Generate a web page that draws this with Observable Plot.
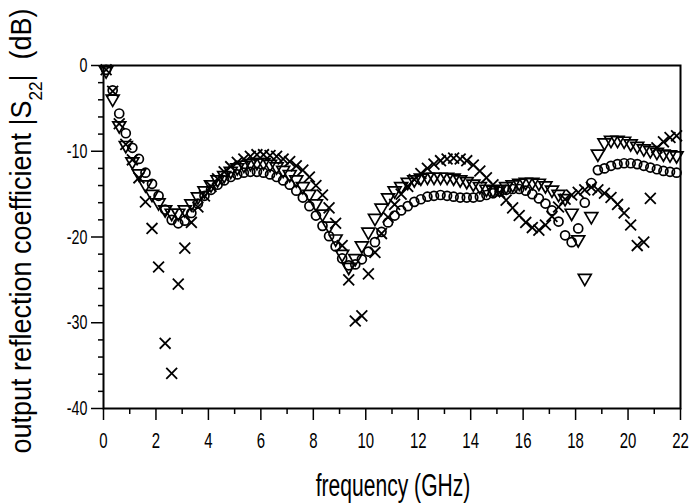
<!DOCTYPE html>
<html><head><meta charset="utf-8">
<script src="https://cdn.jsdelivr.net/npm/d3@7"></script>
<script src="https://cdn.jsdelivr.net/npm/@observablehq/plot@0.6"></script>
<style>
html,body{margin:0;padding:0;background:#fff;}
#chart{width:693px;height:504px;}
</style></head>
<body><div id="chart"></div>
<script>
const freq = [0.1,0.35,0.6,0.85,1.1,1.35,1.6,1.85,2.1,2.35,
2.6,2.85,3.1,3.35,3.6,3.85,4.1,4.35,4.6,4.85,
5.1,5.35,5.6,5.85,6.1,6.35,6.6,6.85,7.1,7.35,
7.6,7.85,8.1,8.35,8.6,8.85,9.1,9.35,9.6,9.85,
10.1,10.35,10.6,10.85,11.1,11.35,11.6,11.85,12.1,12.35,
12.6,12.85,13.1,13.35,13.6,13.85,14.1,14.35,14.6,14.85,
15.1,15.35,15.6,15.85,16.1,16.35,16.6,16.85,17.1,17.35,
17.6,17.85,18.1,18.35,18.6,18.85,19.1,19.35,19.6,19.85,
20.1,20.35,20.6,20.85,21.1,21.35,21.6,21.85];

const crosses = [-0.5,-3.0,-6.8,-9.2,-11.0,-13.1,-15.9,-19.0,-23.5,-32.4,
-35.9,-25.5,-21.3,-18.3,-16.5,-15.2,-14.1,-13.2,-12.4,-11.8,
-11.3,-10.9,-10.6,-10.4,-10.4,-10.5,-10.6,-10.9,-11.2,-11.7,
-12.2,-13.0,-14.0,-15.1,-16.6,-18.4,-21.0,-25.0,-29.8,-29.2,
-24.3,-21.8,-19.6,-17.7,-16.2,-15.0,-14.1,-13.3,-12.6,-12.0,
-11.5,-11.1,-10.9,-10.8,-10.9,-11.1,-11.6,-12.3,-13.1,-13.9,
-14.8,-15.7,-16.6,-17.5,-18.3,-18.9,-19.2,-18.6,-17.6,-16.5,
-15.6,-15.1,-14.8,-14.5,-14.2,-14.5,-14.9,-15.4,-16.2,-17.2,
-18.6,-21.0,-20.6,-15.5,-9.6,-8.9,-8.4,-8.2];

const triangles = [-0.6,-3.9,-7.0,-9.3,-11.2,-12.6,-13.9,-15.0,-16.0,-16.8,
-17.2,-17.2,-16.8,-16.1,-15.3,-14.6,-13.9,-13.3,-12.8,-12.3,
-11.9,-11.6,-11.4,-11.3,-11.3,-11.5,-11.8,-12.2,-12.7,-13.3,
-14.1,-15.0,-16.1,-17.3,-18.7,-20.2,-22.0,-23.5,-22.5,-21.0,
-19.4,-17.8,-16.6,-15.4,-14.6,-14.1,-13.6,-13.3,-13.1,-13.0,
-13.0,-13.0,-13.0,-13.1,-13.3,-13.5,-13.8,-14.1,-14.4,-14.5,
-14.4,-14.1,-13.9,-13.7,-13.6,-13.6,-13.7,-14.0,-14.5,-15.0,
-15.5,-17.2,-20.3,-24.8,-17.6,-10.3,-9.0,-8.7,-8.7,-8.8,
-9.1,-9.4,-9.7,-9.9,-10.1,-10.3,-10.4,-10.5];

const circles = [-0.5,-2.9,-5.6,-7.9,-9.6,-10.9,-12.5,-13.8,-15.2,-16.8,
-18.0,-18.4,-18.1,-17.2,-16.1,-15.2,-14.5,-13.9,-13.4,-13.0,
-12.7,-12.5,-12.4,-12.4,-12.5,-12.7,-13.0,-13.4,-13.9,-14.6,
-15.4,-16.4,-17.5,-18.7,-19.9,-21.1,-22.5,-23.3,-23.2,-22.6,
-21.7,-20.6,-19.4,-18.3,-17.5,-16.9,-16.4,-15.9,-15.6,-15.3,
-15.2,-15.1,-15.2,-15.3,-15.4,-15.4,-15.4,-15.3,-15.1,-14.9,
-14.7,-14.5,-14.4,-14.4,-14.6,-15.0,-15.5,-16.1,-16.9,-18.2,
-19.8,-20.6,-19.0,-16.0,-13.7,-12.2,-12.0,-11.7,-11.5,-11.4,
-11.4,-11.5,-11.7,-11.9,-12.1,-12.3,-12.4,-12.5];

const xTicks = [0,2,4,6,8,10,12,14,16,18,20,22];
const xMinor = [1,3,5,7,9,11,13,15,17,19,21];
const yTicks = [0,-10,-20,-30,-40];
const yMinor = [-2,-4,-6,-8,-12,-14,-16,-18,-22,-24,-26,-28,-32,-34,-36,-38];
const xTitle = "frequency (GHz)";
const yTitleParts = ["output reflection coefficient |S", "22", "|  (dB)"];

const FONT = '"Liberation Sans", Arial, sans-serif';

const rows = (ys) => freq.map((f, i) => ({f, v: ys[i]})).filter(d => d.v != null);

const chart = Plot.plot({
  width: 693, height: 504,
  marginLeft: 103, marginRight: 13, marginTop: 65, marginBottom: 96,
  style: {fontFamily: FONT, fontSize: "21px", background: "#fff", color: "#000"},
  x: {domain: [0, 22], label: null},
  y: {domain: [-40, 0], label: null},
  marks: [
    Plot.frame({stroke: "#000", strokeWidth: 2}),
    Plot.axisX({ticks: xTicks, tickSize: 12, tickPadding: 12, tickFormat: d => String(d), strokeWidth: 1.5, fontSize: 22}),
    Plot.axisX({ticks: xMinor, tickSize: 6, text: null, strokeWidth: 1.5}),
    Plot.axisY({ticks: yTicks, tickSize: 12, tickPadding: 4, tickFormat: d => String(d), strokeWidth: 1.5, fontSize: 21}),
    Plot.axisY({ticks: yMinor, tickSize: 5, text: null, strokeWidth: 1.5}),
    Plot.dot(rows(circles), {x: "f", y: "v", symbol: "circle", r: 4.5, stroke: "#000", strokeWidth: 1.7, fill: "none"}),
    Plot.dot(rows(triangles), {x: "f", y: "v", symbol: "triangle", rotate: 180, r: 4.8, stroke: "#000", strokeWidth: 1.7, fill: "none"}),
    Plot.dot(rows(crosses), {x: "f", y: "v", symbol: "times", r: 5, stroke: "#000", strokeWidth: 1.8, fill: "none"})
  ]
});

document.getElementById("chart").appendChild(chart);

const svg = d3.select(chart);
// narrow the tick labels to mimic a condensed face
svg.selectAll('g[aria-label="x-axis tick label"] text, g[aria-label="y-axis tick label"] text')
  .attr("transform", function() { return (this.getAttribute("transform") || "") + " scale(0.68,1)"; });

svg.append("text")
  .attr("transform", "translate(393,496) scale(0.68,1)")
  .attr("text-anchor", "middle")
  .style("font-family", FONT).style("font-size", "31px").attr("fill", "#000")
  .text(xTitle);

const yt = svg.append("text")
  .attr("transform", "translate(31,231) rotate(-90) scale(0.9,1)")
  .attr("text-anchor", "middle")
  .style("font-family", FONT).style("font-size", "30px").attr("fill", "#000");
yt.append("tspan").text(yTitleParts[0]);
yt.append("tspan").attr("baseline-shift", "sub").style("font-size", "19px").text(yTitleParts[1]);
yt.append("tspan").text(yTitleParts[2]);
</script>
</body></html>
